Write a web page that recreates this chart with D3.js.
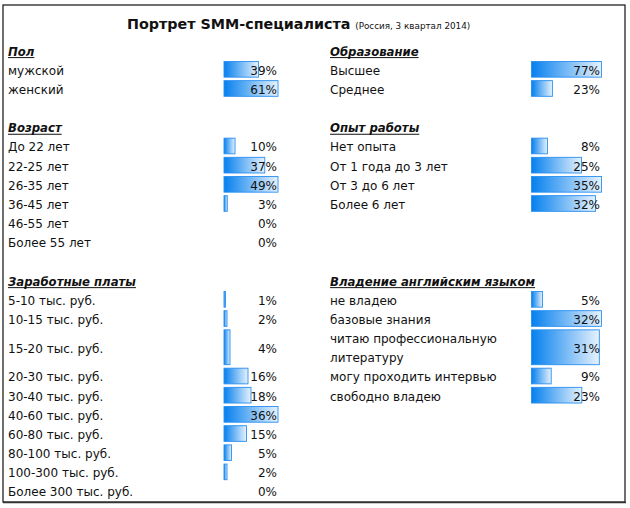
<!DOCTYPE html>
<html>
<head>
<meta charset="utf-8">
<script src="https://cdn.jsdelivr.net/npm/d3@7"></script>
<style>
  html, body { margin: 0; padding: 0; background: #fff; }
  svg { display: block; }
  text { font-family: "DejaVu Sans", sans-serif; fill: #111; }
</style>
</head>
<body>
<svg id="chart" width="630" height="508"></svg>
<script>
// ---------- DATA ----------
const titleMain = "Портрет SMM-специалиста";
const titleSub = "(Россия, 3 квартал 2014)";

const sexTitle = "Пол";
const sexCats = ["мужской", "женский"];
const sexVals = [39, 61];

const ageTitle = "Возраст";
const ageCats = ["До 22 лет", "22-25 лет", "26-35 лет", "36-45 лет", "46-55 лет", "Более 55 лет"];
const ageVals = [10, 37, 49, 3, 0, 0];

const salaryTitle = "Заработные платы";
const salaryCats = ["5-10 тыс. руб.", "10-15 тыс. руб.", "15-20 тыс. руб.", "20-30 тыс. руб.", "30-40 тыс. руб.",
  "40-60 тыс. руб.", "60-80 тыс. руб.", "80-100 тыс. руб.", "100-300 тыс. руб.", "Более 300 тыс. руб."];
const salaryVals = [1, 2, 4, 16, 18, 36, 15, 5, 2, 0];

const eduTitle = "Образование";
const eduCats = ["Высшее", "Среднее"];
const eduVals = [77, 23];

const expTitle = "Опыт работы";
const expCats = ["Нет опыта", "От 1 года до 3 лет", "От 3 до 6 лет", "Более 6 лет"];
const expVals = [8, 25, 35, 32];

const engTitle = "Владение английским языком";
const engCats = ["не владею", "базовые знания", "читаю профессиональную\nлитературу", "могу проходить интервью", "свободно владею"];
const engVals = [5, 32, 31, 9, 23];

// ---------- LAYOUT ----------
const svg = d3.select("#chart");
const ROW = 19.17, TOP0 = 40.8;
const DOUBLE_ROW = 15;           // spreadsheet row that is twice as tall
const unitOf = i => i + (i > DOUBLE_ROW ? 1 : 0);
const yRow = d3.scaleLinear().domain([0, 24]).range([TOP0, TOP0 + 24 * ROW]);
const rowH = i => (i === DOUBLE_ROW ? 2 : 1) * ROW;
const FS = 12, HFS = 11.7, BASE = 5.2;

const columns = [
  { labelX: 8, barX0: 224, barX1: 278, pctX: 277,
    sections: [
      { title: sexTitle, cats: sexCats, vals: sexVals, row: 0 },
      { title: ageTitle, cats: ageCats, vals: ageVals, row: 4 },
      { title: salaryTitle, cats: salaryCats, vals: salaryVals, row: 12 } ] },
  { labelX: 330, barX0: 531.5, barX1: 601.5, pctX: 600,
    sections: [
      { title: eduTitle, cats: eduCats, vals: eduVals, row: 0 },
      { title: expTitle, cats: expCats, vals: expVals, row: 4 },
      { title: engTitle, cats: engCats, vals: engVals, row: 12 } ] }
];

// gradient
const defs = svg.append("defs");
const grad = defs.append("linearGradient").attr("id", "barGrad")
  .attr("x1", "0%").attr("x2", "100%").attr("y1", "0%").attr("y2", "0%");
grad.append("stop").attr("offset", "0%").attr("stop-color", "#0580ee");
grad.append("stop").attr("offset", "100%").attr("stop-color", "#e6f2fd");

// frame
svg.append("rect").attr("x", 3).attr("y", 5).attr("width", 622).attr("height", 497)
  .attr("fill", "none").attr("stroke", "#222").attr("stroke-width", 1.3);
svg.append("line").attr("x1", 3).attr("x2", 626).attr("y1", 502.5).attr("y2", 502.5)
  .attr("stroke", "#333").attr("stroke-width", 1.5);

// title
const t = svg.append("text").attr("x", 127).attr("y", 29);
t.append("tspan").text(titleMain).attr("font-size", 14.3).attr("font-weight", "bold");
t.append("tspan").text(" " + titleSub).attr("font-size", 8.8).attr("dx", 2);

columns.forEach(col => {
  col.sections.forEach(sec => {
    // header
    const hy = yRow(unitOf(sec.row));
    const ht = svg.append("text").attr("x", col.labelX).attr("y", hy + ROW / 2 + BASE)
      .attr("font-size", HFS).attr("font-weight", "bold").attr("font-style", "italic")
      .text(sec.title);
    const w = ht.node().getComputedTextLength();
    svg.append("line").attr("x1", col.labelX).attr("x2", col.labelX + w)
      .attr("y1", hy + ROW / 2 + BASE + 2).attr("y2", hy + ROW / 2 + BASE + 2)
      .attr("stroke", "#111").attr("stroke-width", 1);

    const x = d3.scaleLinear().domain([0, d3.max(sec.vals)]).range([col.barX0, col.barX1]);
    const items = sec.cats.map((c, i) => ({ cat: c, val: sec.vals[i], row: sec.row + 1 + i }));

    const g = svg.append("g");
    const rows = g.selectAll("g.row").data(items).join("g").attr("class", "row");

    rows.filter(d => d.val > 0).append("rect")
      .attr("x", col.barX0)
      .attr("y", d => yRow(unitOf(d.row)) + 1.5)
      .attr("width", d => Math.max(0, x(d.val) - col.barX0))
      .attr("height", d => rowH(d.row) - 3.5)
      .attr("fill", "url(#barGrad)")
      .attr("stroke", "#2a8ff0").attr("stroke-width", 0.9);

    rows.each(function(d) {
      const sel = d3.select(this);
      const top = yRow(unitOf(d.row)), h = rowH(d.row);
      const lines = d.cat.split("\n");
      const lineH = ROW;
      const firstY = top + h / 2 - (lines.length - 1) * lineH / 2 + BASE;
      lines.forEach((ln, k) => {
        sel.append("text").attr("x", col.labelX).attr("y", firstY + k * lineH)
          .attr("font-size", FS).text(ln);
      });
      sel.append("text").attr("x", col.pctX).attr("y", top + h / 2 + BASE)
        .attr("font-size", FS).attr("text-anchor", "end").text(d.val + "%");
    });
  });
});
</script>
</body>
</html>
